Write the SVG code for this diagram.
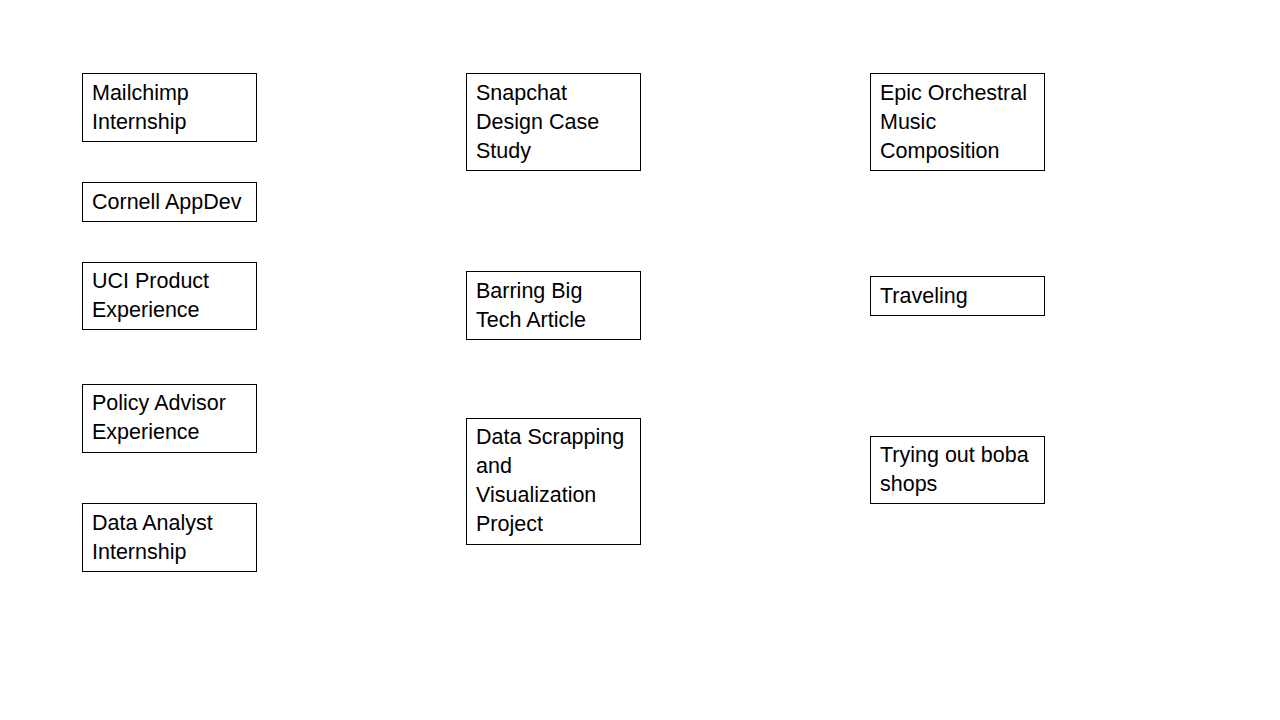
<svg xmlns="http://www.w3.org/2000/svg" width="1280" height="720" viewBox="0 0 1280 720">
<style>
.box{fill:#fff;stroke:#000;stroke-width:1}
.t{font-family:"Liberation Sans",Arial,sans-serif;font-size:21.5px;fill:#000}
</style>
<rect width="1280" height="720" fill="#fff"/>
<g id="connectors"/>
<g id="n1"><rect class="box" x="82.5" y="73.5" width="174" height="68"/><text class="t" x="92" y="100">Mailchimp</text><text class="t" x="92" y="129">Internship</text></g>
<g id="n2"><rect class="box" x="82.5" y="182.5" width="174" height="39"/><text class="t" x="92" y="209">Cornell AppDev</text></g>
<g id="n3"><rect class="box" x="82.5" y="262.5" width="174" height="67"/><text class="t" x="92" y="288">UCI Product</text><text class="t" x="92" y="317">Experience</text></g>
<g id="n4"><rect class="box" x="82.5" y="384.5" width="174" height="68"/><text class="t" x="92" y="410">Policy Advisor</text><text class="t" x="92" y="439">Experience</text></g>
<g id="n5"><rect class="box" x="82.5" y="503.5" width="174" height="68"/><text class="t" x="92" y="530">Data Analyst</text><text class="t" x="92" y="559">Internship</text></g>
<g id="n6"><rect class="box" x="466.5" y="73.5" width="174" height="97"/><text class="t" x="476" y="100">Snapchat</text><text class="t" x="476" y="129">Design Case</text><text class="t" x="476" y="158">Study</text></g>
<g id="n7"><rect class="box" x="466.5" y="271.5" width="174" height="68"/><text class="t" x="476" y="298">Barring Big</text><text class="t" x="476" y="327">Tech Article</text></g>
<g id="n8"><rect class="box" x="466.5" y="418.5" width="174" height="126"/><text class="t" x="476" y="444">Data Scrapping</text><text class="t" x="476" y="473">and</text><text class="t" x="476" y="502">Visualization</text><text class="t" x="476" y="531">Project</text></g>
<g id="n9"><rect class="box" x="870.5" y="73.5" width="174" height="97"/><text class="t" x="880" y="100">Epic Orchestral</text><text class="t" x="880" y="129">Music</text><text class="t" x="880" y="158">Composition</text></g>
<g id="n10"><rect class="box" x="870.5" y="276.5" width="174" height="39"/><text class="t" x="880" y="303">Traveling</text></g>
<g id="n11"><rect class="box" x="870.5" y="436.5" width="174" height="67"/><text class="t" x="880" y="462">Trying out boba</text><text class="t" x="880" y="491">shops</text></g>
</svg>
